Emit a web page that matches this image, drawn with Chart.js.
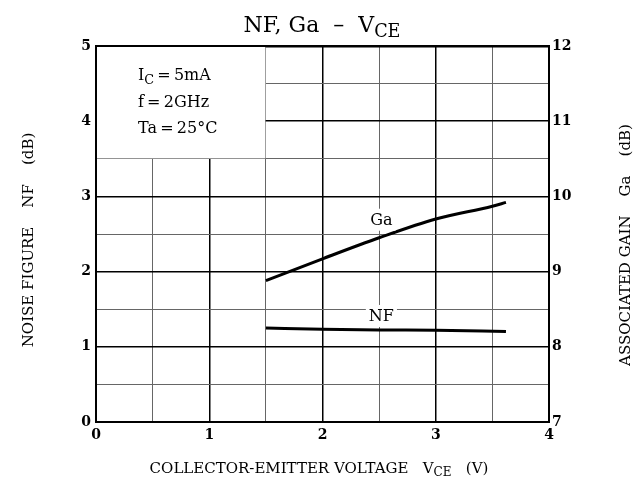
<!DOCTYPE html>
<html>
<head>
<meta charset="utf-8">
<script src="https://cdn.jsdelivr.net/npm/chart.js@4.4.0/dist/chart.umd.min.js"></script>
<style>
  html, body { margin: 0; padding: 0; background: #fff; }
</style>
</head>
<body>
<canvas id="nfChart" width="636" height="483"></canvas>
<script>
// values
const gaVce = [1.5, 2.0, 2.5, 3.0, 3.5, 3.62];
const gaDb = [8.88, 9.17, 9.45, 9.70, 9.87, 9.92];
const nfVce = [1.5, 2.0, 2.5, 3.0, 3.62];
const nfDb = [1.25, 1.235, 1.225, 1.22, 1.205];
const xTickLabels = ['0', '1', '2', '3', '4'];
const nfTickLabels = ['0', '1', '2', '3', '4', '5'];
const gaTickLabels = ['7', '8', '9', '10', '11', '12'];
const conditions = ['I_{C}\u2009=\u20095mA', 'f\u2009=\u20092GHz', 'Ta\u2009=\u200925°C'];

const SERIF = '"DejaVu Serif", "Liberation Serif", serif';

// split 'V_{CE}' style strings into normal / subscript parts
function parts(str) {
  const out = [];
  const bits = str.split(/_\{([^}]*)\}/);
  bits.forEach(function(b, i) {
    if (b) out.push({ text: b, sub: i % 2 === 1 });
  });
  return out;
}

function textWidth(ctx, str, size) {
  let w = 0;
  parts(str).forEach(function(p) {
    ctx.font = (p.sub ? size * 0.8 : size) + 'px ' + SERIF;
    w += ctx.measureText(p.text).width;
  });
  return w;
}

// draws text with subscripts, x is the left edge, y the baseline
function drawSub(ctx, str, x, y, size) {
  ctx.textBaseline = 'alphabetic';
  ctx.textAlign = 'left';
  parts(str).forEach(function(p) {
    const s = p.sub ? size * 0.8 : size;
    ctx.font = s + 'px ' + SERIF;
    ctx.fillText(p.text, x, p.sub ? y + size * 0.22 : y);
    x += ctx.measureText(p.text).width;
  });
}

function drawCentered(ctx, str, cx, y, size) {
  drawSub(ctx, str, cx - textWidth(ctx, str, size) / 2, y, size);
}

function isMajor(v) {
  return Math.abs(v - Math.round(v)) < 1e-6;
}

const curveLabels = [
  { text: 'Ga', v: 2.52, nf: 2.69 },
  { text: 'NF', v: 2.52, nf: 1.41 }
];

const annotate = {
  id: 'annotate',
  beforeDatasetsDraw(chart) {
    // white condition box in the upper left, no grid inside
    const { ctx, scales: { x, y } } = chart;
    const l = x.getPixelForValue(0) + 1;
    const r = x.getPixelForValue(1.5) - 0.5;
    const t = y.getPixelForValue(5) + 1;
    const b = y.getPixelForValue(3.5) - 0.5;
    ctx.save();
    ctx.fillStyle = '#fff';
    ctx.fillRect(l, t, r - l, b - t);
    ctx.restore();
  },
  afterDatasetsDraw(chart) {
    const { ctx, scales: { x, y } } = chart;
    ctx.save();
    curveLabels.forEach(function(c) {
      const px = x.getPixelForValue(c.v);
      const py = y.getPixelForValue(c.nf);
      ctx.font = '16px ' + SERIF;
      const w = ctx.measureText(c.text).width;
      ctx.fillStyle = '#fff';
      ctx.fillRect(px - w / 2 - 3, py - 11, w + 6, 22);
      ctx.fillStyle = '#000';
      ctx.textAlign = 'center';
      ctx.textBaseline = 'middle';
      ctx.fillText(c.text, px, py + 1);
    });
    ctx.restore();
  },
  afterDraw(chart) {
    const { ctx, chartArea: a } = chart;
    ctx.save();
    ctx.fillStyle = '#000';

    // condition text
    conditions.forEach(function(s, i) {
      drawSub(ctx, s, a.left + 42, 80 + i * 26.5, 16);
    });

    // title
    drawCentered(ctx, 'NF, Ga  \u2013  V_{CE}', 322, 32, 22);

    // x axis title
    drawCentered(ctx, 'COLLECTOR-EMITTER VOLTAGE   V_{CE}   (V)', 319, 473, 15);

    // left axis title
    ctx.save();
    ctx.translate(33, (a.top + a.bottom) / 2 + 6);
    ctx.rotate(-Math.PI / 2);
    drawCentered(ctx, 'NOISE FIGURE    NF    (dB)', 0, 0, 15);
    ctx.restore();

    // right axis title, reads bottom to top as well
    ctx.save();
    ctx.translate(630, (a.top + a.bottom) / 2 + 11);
    ctx.rotate(-Math.PI / 2);
    drawCentered(ctx, 'ASSOCIATED GAIN    Ga    (dB)', 0, 0, 15);
    ctx.restore();

    ctx.restore();
  }
};

const tickFont = { family: SERIF, size: 14, weight: 'bold' };

const chart = new Chart(document.getElementById('nfChart').getContext('2d'), {
  type: 'line',
  data: {
    datasets: [{
      label: 'Ga',
      data: gaVce.map(function(v, i) { return { x: v, y: gaDb[i] }; }),
      yAxisID: 'y2',
      borderColor: '#000',
      borderWidth: 3,
      pointRadius: 0,
      fill: false,
      cubicInterpolationMode: 'monotone'
    }, {
      label: 'NF',
      data: nfVce.map(function(v, i) { return { x: v, y: nfDb[i] }; }),
      yAxisID: 'y',
      borderColor: '#000',
      borderWidth: 3,
      pointRadius: 0,
      fill: false,
      cubicInterpolationMode: 'monotone'
    }]
  },
  options: {
    responsive: false,
    animation: false,
    layout: { padding: { top: 46, left: 0, right: 0, bottom: 0 } },
    plugins: {
      legend: { display: false },
      tooltip: { enabled: false },
      title: { display: false }
    },
    scales: {
      x: {
        type: 'linear',
        min: 0,
        max: 4,
        afterFit: function(s) { s.height = 61; },
        ticks: {
          stepSize: 0.5,
          padding: 5,
          color: '#000',
          font: tickFont,
          maxRotation: 0,
          callback: function(v) { return isMajor(v) ? xTickLabels[Math.round(v)] : ''; }
        },
        grid: {
          drawTicks: false,
          color: function(c) { return isMajor(c.tick.value) ? '#000' : '#666'; },
          lineWidth: function(c) { return isMajor(c.tick.value) ? 1.5 : 1; }
        },
        border: { color: '#000', width: 2 }
      },
      y: {
        position: 'left',
        min: 0,
        max: 5,
        afterFit: function(s) { s.width = 96; },
        ticks: {
          stepSize: 0.5,
          padding: 5,
          color: '#000',
          font: tickFont,
          callback: function(v) { return isMajor(v) ? nfTickLabels[Math.round(v)] : ''; }
        },
        grid: {
          drawTicks: false,
          color: function(c) { return isMajor(c.tick.value) ? '#000' : '#666'; },
          lineWidth: function(c) {
            if (c.tick.value === 5) return 2.5;
            return isMajor(c.tick.value) ? 1.5 : 1;
          }
        },
        border: { color: '#000', width: 2 }
      },
      y2: {
        position: 'right',
        min: 7,
        max: 12,
        afterFit: function(s) { s.width = 87; },
        ticks: {
          stepSize: 0.5,
          padding: 3,
          color: '#000',
          font: tickFont,
          callback: function(v) { return isMajor(v) ? gaTickLabels[Math.round(v) - 7] : ''; }
        },
        grid: { display: false, drawTicks: false },
        border: { color: '#000', width: 2 }
      }
    }
  },
  plugins: [annotate]
});
</script>
</body>
</html>
